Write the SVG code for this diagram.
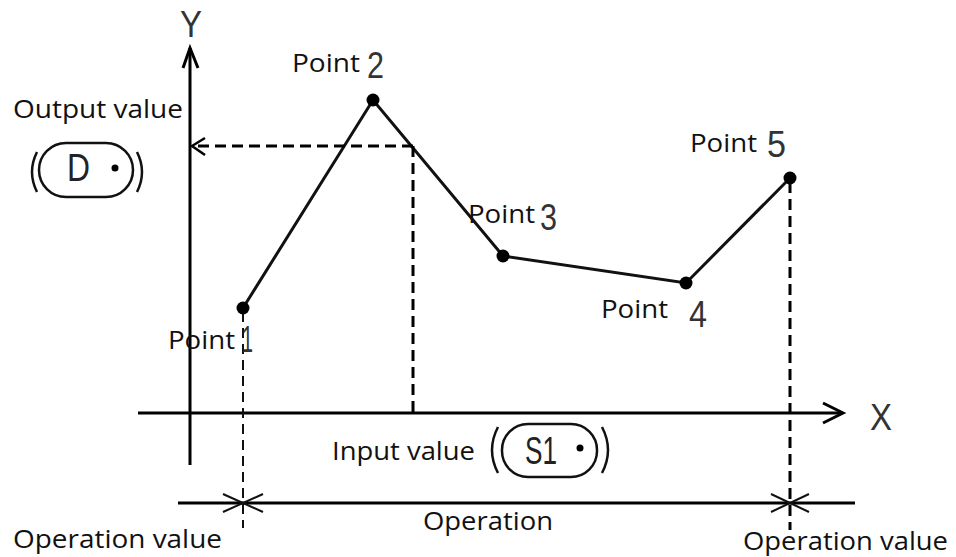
<svg xmlns="http://www.w3.org/2000/svg" width="956" height="557" viewBox="0 0 956 557">
<defs>
<style>
.lbl{font-family:"Open Sans","Liberation Sans",sans-serif;font-size:26px;fill:#111}
.num{font-family:"Liberation Sans","DejaVu Sans",sans-serif;font-size:36px;fill:#333}
.big{font-size:38px;fill:#222}
.axis{stroke:#000;stroke-width:3;fill:none}
.curve{stroke:#111;stroke-width:3;fill:none}
.dash{stroke:#000;stroke-width:3;fill:none;stroke-dasharray:11 6}
.dashthin{stroke:#111;stroke-width:2;fill:none;stroke-dasharray:10 6}
.thin{stroke:#111;stroke-width:2;fill:none}
.cap{stroke:#111;stroke-width:2.5;fill:none}
</style>
</defs>
<rect width="956" height="557" fill="#fff"/>
<g id="axes">
<line class="axis" x1="190" y1="48" x2="190" y2="465"/>
<polyline class="axis" points="183,68 190,48 198,68"/>
<line class="axis" x1="138" y1="413" x2="842" y2="413"/>
<polyline class="axis" points="823,403 843,413 823,423"/>
<text class="num" x="180" y="37" textLength="22" lengthAdjust="spacingAndGlyphs">Y</text>
<text class="num" x="870" y="430" textLength="22" lengthAdjust="spacingAndGlyphs">X</text>
</g>
<g id="connectors">
<polyline class="curve" points="243,308 373,100 503,256 686,283 790,178"/>
<line class="dash" x1="413" y1="146" x2="195" y2="146"/>
<polyline class="axis" points="205,138 192,146 205,155" style="stroke-width:2.5"/>
<line class="dash" x1="413" y1="146" x2="413" y2="412"/>
<line class="dashthin" x1="243" y1="312" x2="243" y2="528"/>
<line class="dash" x1="790" y1="182" x2="790" y2="530"/>
<line class="axis" x1="178" y1="503" x2="855" y2="503"/>
<path class="thin" d="M223,494 L263,512 M223,512 L263,494"/>
<path class="thin" d="M771,494 L809,512 M771,512 L809,494"/>
</g>
<g id="point1">
<circle cx="243" cy="308" r="6.5" fill="#000"/>
<text class="lbl" x="168" y="349" textLength="67" lengthAdjust="spacingAndGlyphs">Point</text>
<text class="num" x="242" y="352" textLength="11" lengthAdjust="spacingAndGlyphs">1</text>
</g>
<g id="point2">
<circle cx="373" cy="100" r="6.5" fill="#000"/>
<text class="lbl" x="292" y="72" textLength="68" lengthAdjust="spacingAndGlyphs">Point</text>
<text class="num" x="367" y="78" textLength="17" lengthAdjust="spacingAndGlyphs">2</text>
</g>
<g id="point3">
<circle cx="503" cy="256" r="6.5" fill="#000"/>
<text class="lbl" x="468" y="223" textLength="67" lengthAdjust="spacingAndGlyphs">Point</text>
<text class="num" x="540" y="230" textLength="17" lengthAdjust="spacingAndGlyphs">3</text>
</g>
<g id="point4">
<circle cx="686" cy="283" r="6.5" fill="#000"/>
<text class="lbl" x="601" y="318" textLength="67" lengthAdjust="spacingAndGlyphs">Point</text>
<text class="num" x="689" y="327" textLength="18" lengthAdjust="spacingAndGlyphs">4</text>
</g>
<g id="point5">
<circle cx="790" cy="178" r="6.5" fill="#000"/>
<text class="lbl" x="690" y="152" textLength="67" lengthAdjust="spacingAndGlyphs">Point</text>
<text class="num" x="767" y="157" textLength="19" lengthAdjust="spacingAndGlyphs">5</text>
</g>
<g id="output">
<text class="lbl" x="13" y="118" textLength="170" lengthAdjust="spacingAndGlyphs">Output value</text>
<path class="cap" d="M37,152 Q27,172 37,192 M137,152 Q147,172 137,192"/>
<rect class="cap" x="39" y="143" width="94" height="54" rx="27"/>
<text class="num big" x="67" y="181" textLength="23" lengthAdjust="spacingAndGlyphs">D</text>
<circle cx="115" cy="168" r="3.5" fill="#000"/>
</g>
<g id="input">
<text class="lbl" x="332" y="460" textLength="143" lengthAdjust="spacingAndGlyphs">Input value</text>
<path class="cap" d="M498,427 Q486,450 498,473 M602,427 Q614,450 602,473"/>
<rect class="cap" x="502" y="424" width="95" height="53" rx="26"/>
<text class="num big" x="525" y="464" textLength="32" lengthAdjust="spacingAndGlyphs">S1</text>
<circle cx="580" cy="448" r="3.5" fill="#000"/>
</g>
<g id="operation">
<text class="lbl" x="423" y="530" textLength="130" lengthAdjust="spacingAndGlyphs">Operation</text>
<text class="lbl" x="13" y="548" textLength="209" lengthAdjust="spacingAndGlyphs">Operation value</text>
<text class="lbl" x="743" y="550" textLength="205" lengthAdjust="spacingAndGlyphs">Operation value</text>
</g>
</svg>
